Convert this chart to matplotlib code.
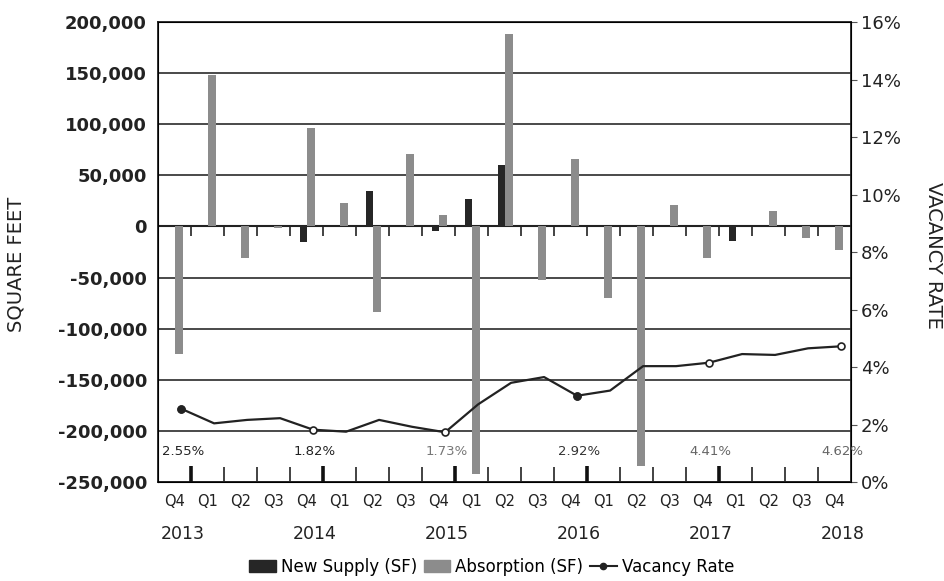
import matplotlib
matplotlib.use("Agg")
import matplotlib.pyplot as plt
import numpy as np
from matplotlib.patches import Patch
from matplotlib.lines import Line2D
import matplotlib.transforms as mtransforms


quarters = ["Q4", "Q1", "Q2", "Q3", "Q4", "Q1", "Q2", "Q3", "Q4", "Q1", "Q2",
            "Q3", "Q4", "Q1", "Q2", "Q3", "Q4", "Q1", "Q2", "Q3", "Q4"]
years = ["2013", "2014", "2015", "2016", "2017", "2018"]

new_supply = [0, 0, 0, 0, -15000, 0, 35000, 0, -4000, 27000, 60000,
              0, 0, 0, 0, 0, 0, -14000, 0, 0, 0]
absorption = [-125000, 148000, -31000, -2000, 96000, 23000, -84000, 71000, 11000, -242000, 188000,
              -52000, 66000, -70000, -234000, 21000, -31000, 0, 15000, -11000, -23000]
vacancy = [2.55, 2.04, 2.16, 2.22, 1.82, 1.75, 2.16, 1.92, 1.73, 2.70, 3.45,
           3.65, 3.00, 3.18, 4.03, 4.03, 4.15, 4.45, 4.42, 4.65, 4.72]
year_end_labels = ["2.55%", "1.82%", "1.73%", "2.92%", "4.41%", "4.62%"]

n = len(quarters)
x = np.arange(n)
q4_idx = x[::4]

fig = plt.figure(figsize=(9.45, 5.81), dpi=100)
ax = fig.add_axes([0.1672, 0.1704, 0.7333, 0.7917])
ax2 = ax.twinx()

w = 0.22
ax.bar(x - 0.09, new_supply, w, color="#262626", zorder=3)
ax.bar(x + 0.14, absorption, w, color="#8c8c8c", zorder=3)

ax.set_xlim(-0.5, n - 0.5)
ax.set_ylim(-250000, 200000)
ax.set_yticks(np.arange(-250000, 200001, 50000))
ax.set_yticklabels(["{:,}".format(v) for v in np.arange(-250000, 200001, 50000)],
                   fontsize=13, fontweight="bold", color="#222222")
ax.tick_params(axis="y", length=0, pad=8)
ax.grid(axis="y", color="#3a3a3a", linewidth=1.3, zorder=1)
ax.axhline(0, color="#222222", linewidth=1.5, zorder=2)

# boundary ticks along the bottom (bigger at year ends)
bounds = x[:-1] + 0.5
ax.set_xticks(bounds)
ax.set_xticklabels([])
ax.tick_params(axis="x", which="major", direction="in", length=11, width=1.2, color="#222222")
ax.set_xticks(x, minor=True)
ax.set_xticklabels(quarters, minor=True, fontsize=10.5, color="#222222")
ax.tick_params(axis="x", which="minor", length=0, pad=9)
tr = mtransforms.blended_transform_factory(ax.transData, ax.transAxes)
ax.vlines(q4_idx[:-1] + 0.5, 0, 0.035, transform=tr, color="#111111", linewidth=2.6, zorder=4)
# small ticks hanging from the zero line
ax.vlines(bounds, -9000, 0, color="#222222", linewidth=1.2, zorder=4)

for i, yr in zip(q4_idx, years):
    ax.text(i + 0.25, -0.112, yr, transform=tr, ha="center", va="center",
            fontsize=12.5, color="#222222")

for sp in ax.spines.values():
    sp.set_color("#222222")
    sp.set_linewidth(1.3)

ax2.plot(x + 0.2, vacancy, color="#222222", linewidth=1.6, zorder=5)
ax2.plot(q4_idx + 0.2, [vacancy[i] for i in q4_idx], "o", markersize=5,
         markerfacecolor="white", markeredgecolor="#222222", markeredgewidth=1.2, zorder=6)
ax2.plot([q4_idx[0] + 0.2, q4_idx[3] + 0.2], [vacancy[0], vacancy[12]], "o", markersize=5,
         color="#222222", linestyle="none", zorder=7)
ax2.set_ylim(0, 16)
ax2.set_yticks(np.arange(0, 17, 2))
ax2.set_yticklabels(["{}%".format(v) for v in range(0, 17, 2)], fontsize=13, color="#222222")
ax2.tick_params(axis="y", length=4, color="#555555", pad=3)

label_colors = ["#222222", "#222222", "#777777", "#333333", "#666666", "#666666"]
for i, lab, c in zip(q4_idx, year_end_labels, label_colors):
    ax2.text(i + 0.25, 1.05, lab, ha="center", va="center", fontsize=9.5, color=c, zorder=6)

fig.text(0.017, 0.545, "SQUARE FEET", rotation=90, ha="center", va="center",
         fontsize=14, color="#222222")
fig.text(0.988, 0.56, "VACANCY RATE", rotation=-90, ha="center", va="center",
         fontsize=14, color="#222222")

handles = [Patch(color="#262626"), Patch(color="#8c8c8c"),
           Line2D([0], [0], color="#222222", marker="o", markersize=4.5)]
fig.legend(handles, ["New Supply (SF)", "Absorption (SF)", "Vacancy Rate"],
           loc="center", bbox_to_anchor=(0.52, 0.024), ncol=3, frameon=False,
           fontsize=12, handlelength=1.6, handletextpad=0.3, columnspacing=0.4)

fig.savefig("out.png", dpi=100)
